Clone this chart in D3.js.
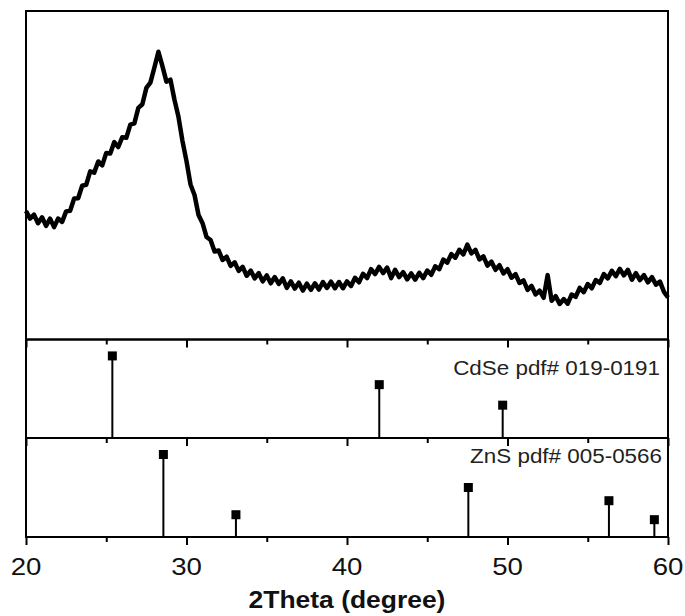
<!DOCTYPE html>
<html><head><meta charset="utf-8">
<script src="https://cdn.jsdelivr.net/npm/d3@7"></script>
<style>html,body{margin:0;padding:0;background:#fff;}svg{display:block;}</style>
</head><body>
<svg id="chart" width="685" height="616"></svg>
<script>
// ---- data ----
const xrdTheta = d3.range(0, 161).map(i => 20 + i * 0.25); // sampling grid (degrees), 0.25° step
const xrdIntensity = [
391,368,380,354,372,346,368,342,368,358,390,392,429,430,468,471,512,508,542,530,
568,566,601,586,616,614,654,658,705,716,766,782,828,876,832,785,791,730,678,604,
543,472,440,379,354,312,303,268,271,242,252,224,235,209,221,194,210,186,202,177,
195,171,190,169,186,157,177,155,173,149,170,151,171,152,175,157,176,156,175,156,
177,163,188,174,200,187,214,199,221,202,219,187,212,190,205,183,201,182,203,187,
210,197,223,214,243,234,260,249,273,259,289,262,273,244,253,225,237,212,226,201,
214,188,199,172,180,151,163,137,149,127,196,118,132,108,123,109,137,130,157,144,
169,156,181,172,199,186,209,193,215,195,212,182,202,181,196,174,190,167,176,145,
128];
const cdsePos = [25.38, 42.01, 49.70];
const cdseInt = [100, 65, 40];
const znsPos = [28.56, 33.08, 47.56, 56.32, 59.15];
const znsInt = [100, 27, 60, 44, 21];
const majorTicks = [20, 30, 40, 50, 60];
const minorTicks = [25, 35, 45, 55];
const tickLabels = ["20", "30", "40", "50", "60"];
const cdseLabel = "CdSe pdf# 019-0191";
const znsLabel = "ZnS pdf# 005-0566";
const xTitle = "2Theta (degree)";

// ---- layout ----
const svg = d3.select("#chart");
const L = 26, R = 668;
const panels = [
  {top: 11, bottom: 339.5},
  {top: 339.5, bottom: 438},
  {top: 438, bottom: 537}
];
const x = d3.scaleLinear().domain([20, 60]).range([L, R]);
const yTop = d3.scaleLinear().domain([0, 1000]).range([panels[0].bottom, panels[0].top]);
const yMid = d3.scaleLinear().domain([0, 120]).range([panels[1].bottom, panels[1].top]);
const yBot = d3.scaleLinear().domain([0, 120]).range([panels[2].bottom, panels[2].top]);
const font = "Arial, 'Liberation Sans', Helvetica, sans-serif";
const sx = 1.15;

// XRD curve
const pts = xrdTheta.map((t, i) => [t, xrdIntensity[i]]);
svg.append("path")
  .datum(pts)
  .attr("fill", "none")
  .attr("stroke", "#000")
  .attr("stroke-width", 4.5)
  .attr("stroke-linejoin", "round")
  .attr("d", d3.line().x(d => x(d[0])).y(d => yTop(d[1])));

// stick patterns
function sticks(pos, ints, y) {
  const g = svg.append("g");
  const data = pos.map((p, i) => ({p, v: ints[i]}));
  g.selectAll("line").data(data).join("line")
    .attr("x1", d => x(d.p)).attr("x2", d => x(d.p))
    .attr("y1", y(0)).attr("y2", d => y(d.v))
    .attr("stroke", "#000").attr("stroke-width", 2);
  g.selectAll("rect").data(data).join("rect")
    .attr("x", d => x(d.p) - 4.5).attr("y", d => y(d.v) - 4.5)
    .attr("width", 9).attr("height", 9).attr("fill", "#000");
}
sticks(cdsePos, cdseInt, yMid);
sticks(znsPos, znsInt, yBot);

// ticks (pointing down from each panel's bottom edge)
panels.forEach(p => {
  const gMaj = svg.append("g").attr("transform", `translate(0,${p.bottom})`)
    .call(d3.axisBottom(x).tickValues(majorTicks).tickSize(8).tickFormat(""));
  const gMin = svg.append("g").attr("transform", `translate(0,${p.bottom})`)
    .call(d3.axisBottom(x).tickValues(minorTicks).tickSize(5).tickFormat(""));
  [gMaj, gMin].forEach(g => {
    g.select(".domain").remove();
    g.selectAll(".tick line").attr("stroke", "#000").attr("stroke-width", 2);
  });
});

// frames
panels.forEach(p => {
  svg.append("rect")
    .attr("x", L).attr("y", p.top)
    .attr("width", R - L).attr("height", p.bottom - p.top)
    .attr("fill", "none").attr("stroke", "#000").attr("stroke-width", 2);
});

// tick labels
svg.append("g").selectAll("text").data(majorTicks).join("text")
  .attr("transform", d => `translate(${x(d)},575) scale(${sx},1)`)
  .attr("text-anchor", "middle")
  .attr("font-family", font).attr("font-size", 24).attr("fill", "#111")
  .text((d, i) => tickLabels[i]);

// axis title
svg.append("text")
  .attr("transform", `translate(${(L + R) / 2},608) scale(${sx},1)`)
  .attr("text-anchor", "middle")
  .attr("font-family", font).attr("font-size", 23).attr("font-weight", "bold").attr("fill", "#111")
  .text(xTitle);

// reference labels
svg.append("text")
  .attr("transform", `translate(660,375) scale(${sx},1)`)
  .attr("text-anchor", "end")
  .attr("font-family", font).attr("font-size", 19.5).attr("fill", "#222")
  .text(cdseLabel);
svg.append("text")
  .attr("transform", `translate(662,463) scale(${sx},1)`)
  .attr("text-anchor", "end")
  .attr("font-family", font).attr("font-size", 19.5).attr("fill", "#222")
  .text(znsLabel);
</script>
</body></html>
